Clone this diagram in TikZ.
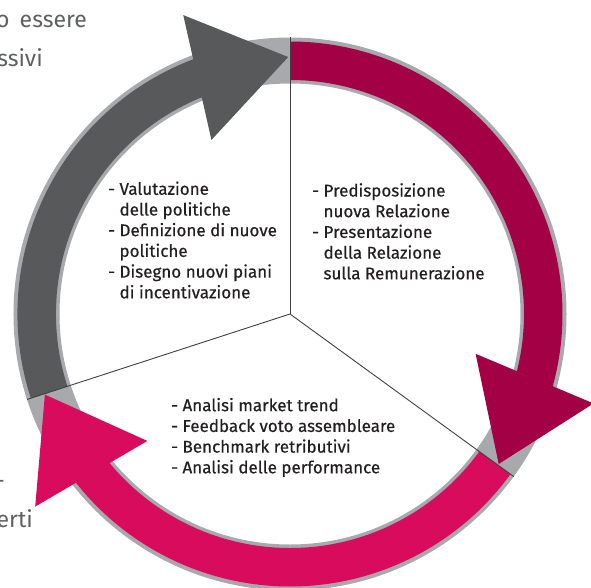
\documentclass[tikz,border=0pt]{standalone}
\usepackage{fontspec}
\setmainfont{Fira Sans}
\newfontfamily\blockfont{Fira Sans}[FakeBold=0.5]
\usetikzlibrary{calc}
\definecolor{ringgray}{RGB}{167,169,172}
\definecolor{arrgray}{RGB}{88,89,91}
\definecolor{arrred}{RGB}{164,0,69}
\definecolor{arrpink}{RGB}{216,11,93}
\definecolor{txtcol}{RGB}{35,31,32}
\definecolor{fragcol}{RGB}{95,96,98}
\tikzset{
  blocktext/.style={anchor=base west, inner sep=0pt, align=left, text=txtcol,
    font=\blockfont\fontsize{17}{20.7}\selectfont},
  fragtext/.style={anchor=base east, inner sep=0pt, text=fragcol,
    font=\fontsize{23}{39}\selectfont},
  radline/.style={draw=black!75, line width=0.9pt},
}
\newcommand{\bandarc}[3]{% colour, start angle, end angle
  \fill[#1] (#2:234pt) arc[start angle=#2, end angle=#3, radius=234pt]
    -- (#3:272.5pt) arc[start angle=#3, end angle=#2, radius=272.5pt] -- cycle;}
\begin{document}
\begin{tikzpicture}[x=1pt,y=1pt]
\useasboundingbox (-290,-273) rectangle (301,314);
\clip (-290,-273) rectangle (301,314);
\coordinate (C) at (0,0);
% background ring
\fill[ringgray, even odd rule] (C) circle[radius=276.5pt] (C) circle[radius=230.5pt];
% red arrow
\bandarc{arrred}{90}{-17.8}
\coordinate (RB) at (-14.8:253pt);
\coordinate (RT) at (-35.7:257pt);
\fill[arrred] ($(RB)!64pt!90:(RT)$) -- (RT) -- ($(RB)!64pt!-90:(RT)$) -- cycle;
% pink arrow
\bandarc{arrpink}{-36}{-144.2}
\coordinate (PB) at (-141.2:255pt);
\coordinate (PT) at (-161.8:258pt);
\fill[arrpink] ($(PB)!65pt!90:(PT)$) -- (PT) -- ($(PB)!65pt!-90:(PT)$) -- cycle;
% gray arrow
\bandarc{arrgray}{198}{108.4}
\coordinate (GB) at (111.4:254pt);
\coordinate (GT) at (90.4:257pt);
\fill[arrgray] ($(GB)!64pt!90:(GT)$) -- (GT) -- ($(GB)!64pt!-90:(GT)$) -- cycle;
% radial lines
\coordinate (E1) at (90:276.5pt);
\coordinate (E2) at (198:276.5pt);
\coordinate (E3) at (-36:276.5pt);
\draw[radline] (C) -- (E1);
\draw[radline] (C) -- (E2);
\draw[radline] (C) -- (E3);
% texts (base anchor = baseline of the last line)
\node[blocktext] (txtL) at (-182,15.7) {- Valutazione\\\hphantom{- }delle politiche\\- Definizione di nuove\\\hphantom{- }politiche\\- Disegno nuovi piani\\\hphantom{- }di incentivazione};
\node[blocktext] (txtR) at (22,34.7) {- Predisposizione\\\hphantom{- }nuova Relazione\\- Presentazione\\\hphantom{- }della Relazione\\\hphantom{- }sulla Remunerazione};
\node[blocktext] (txtB) at (-119,-159.3) {- Analisi market trend\\- Feedback voto assembleare\\- Benchmark retributivi\\- Analisi delle performance};
% fragments of neighbouring text
\node[fragtext] (fragA) at (-203,286.7) {o\hspace{4pt} essere};
\node[fragtext] (fragB) at (-247,247.3) {ssivi};
\node[fragtext] (fragC) at (-285,-174) {-};
\node[fragtext] (fragD) at (-257,-213) {erti};
\end{tikzpicture}
\end{document}
